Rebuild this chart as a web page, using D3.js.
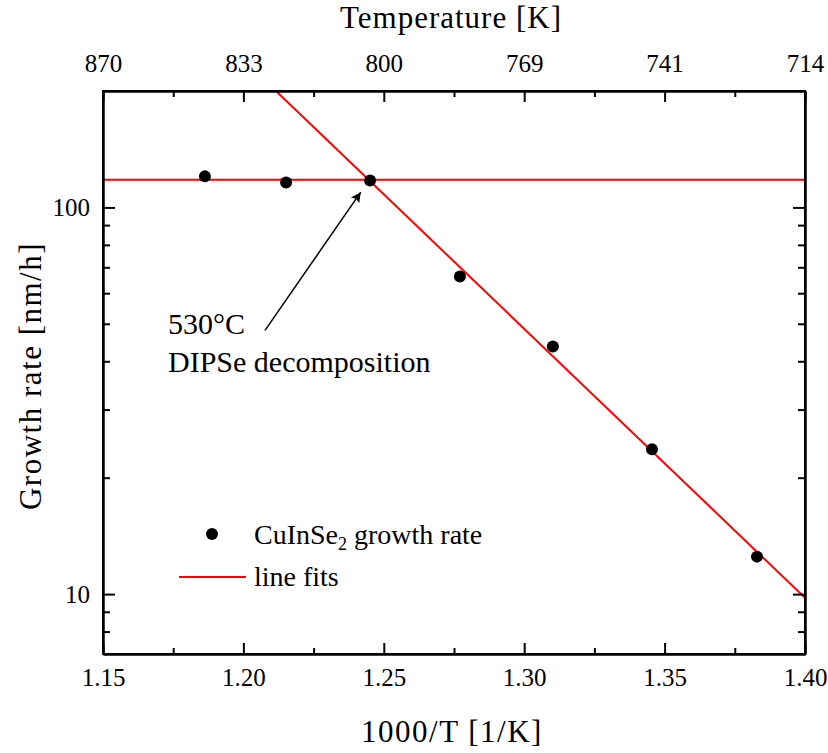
<!DOCTYPE html>
<meta charset="utf-8" />
<body style="margin: 0; background: #fff">
<svg width="828" height="753"></svg>

<script src="https://d3js.org/d3.v7.js"></script>
<script>
  /* global d3 */

  // measured points: 1000/T [1/K] and growth rate [nm/h]
  var invT = [1.1863, 1.2152, 1.2451, 1.2771, 1.3102, 1.3455, 1.3829];
  var rate = [120.3, 116.0, 117.4, 66.3, 43.7, 23.7, 12.5];

  // line fits, given by end points [1000/T, rate]
  var fitPlateau = [[1.15, 117.9], [1.40, 117.9]];
  var fitSlope = [[1.2116, 200], [1.40, 9.78]];

  // ticks
  var xMajor = [1.15, 1.2, 1.25, 1.3, 1.35, 1.4];
  var xMinor = [1.175, 1.225, 1.275, 1.325, 1.375];
  var tempLabels = ["870", "833", "800", "769", "741", "714"];
  var yMajor = [10, 100];
  var yMinor = [8, 9, 20, 30, 40, 50, 60, 70, 80, 90];

  // annotation arrow [1000/T, rate]: tail -> tip
  var arrowTail = [1.2077, 48.1];
  var arrowTip = [1.2418, 109.5];

  var FONT = "'Liberation Serif'";

  var svg = d3.select("svg").style("font-family", FONT, "important");
  var margin = { top: 91, right: 23, bottom: 99, left: 103 };
  var width = 828 - margin.left - margin.right,
    height = 753 - margin.top - margin.bottom;

  var x = d3.scaleLinear().domain([1.15, 1.4]).range([0, width]);
  var y = d3.scaleLog().domain([7, 200]).range([height, 0]);

  var defs = svg.append("defs");
  defs
    .append("clipPath")
    .attr("id", "clip")
    .append("rect")
    .attr("width", width)
    .attr("height", height);

  defs
    .append("marker")
    .attr("id", "head")
    .attr("viewBox", "0 0 10 10")
    .attr("refX", 10)
    .attr("refY", 5)
    .attr("markerWidth", 10)
    .attr("markerHeight", 12)
    .attr("markerUnits", "userSpaceOnUse")
    .attr("orient", "auto")
    .append("path")
    .attr("d", "M0,0 L10,5 L0,10 L2,5 z")
    .attr("fill", "#000");

  var g = svg
    .append("g")
    .attr("transform", "translate(" + margin.left + "," + margin.top + ")");

  // fit lines
  var line = d3
    .line()
    .x(function (d) {
      return x(d[0]);
    })
    .y(function (d) {
      return y(d[1]);
    });

  var fits = g.append("g").attr("clip-path", "url(#clip)");
  [fitPlateau, fitSlope].forEach(function (f) {
    fits
      .append("path")
      .attr("d", line(f))
      .attr("fill", "none")
      .attr("stroke", "#ff0000")
      .attr("stroke-width", 2);
  });

  // data points
  g.append("g")
    .selectAll("circle")
    .data(invT)
    .enter()
    .append("circle")
    .attr("cx", function (d) {
      return x(d);
    })
    .attr("cy", function (d, i) {
      return y(rate[i]);
    })
    .attr("r", 6)
    .attr("fill", "#000");

  // axes (ticks pointing inward)
  function tickAxis(axisFn, scale, values, size, labels) {
    return axisFn(scale)
      .tickValues(values)
      .tickSizeInner(-size)
      .tickSizeOuter(0)
      .tickFormat(function (d, i) {
        return labels ? labels[i] : "";
      });
  }

  var xLabel = function (d) {
    return d3.format(".2f")(d);
  };

  var axBottom = g.append("g").attr("class", "axis").attr("transform", "translate(0," + height + ")");
  axBottom.call(tickAxis(d3.axisBottom, x, xMinor, 6));
  axBottom.append("g").call(tickAxis(d3.axisBottom, x, xMajor, 11, xMajor.map(xLabel)));

  var axTop = g.append("g").attr("class", "axis");
  axTop.call(tickAxis(d3.axisTop, x, xMinor, 6));
  axTop.append("g").call(tickAxis(d3.axisTop, x, xMajor, 11, tempLabels));

  var axLeft = g.append("g").attr("class", "axis");
  axLeft.call(tickAxis(d3.axisLeft, y, yMinor, 7));
  axLeft.append("g").call(tickAxis(d3.axisLeft, y, yMajor, 12, yMajor.map(String)));

  var axRight = g.append("g").attr("class", "axis").attr("transform", "translate(" + width + ",0)");
  axRight.call(tickAxis(d3.axisRight, y, yMinor, 7));
  axRight.append("g").call(tickAxis(d3.axisRight, y, yMajor, 12));

  g.selectAll(".axis, .axis g").attr("font-family", FONT).attr("font-size", 25);
  g.selectAll(".axis line").attr("stroke", "#000").attr("stroke-width", 2);
  g.selectAll(".axis path").attr("stroke", "#000").attr("stroke-width", 2);
  axBottom.selectAll("text").attr("dy", null).attr("y", 32);
  axTop.selectAll("text").attr("dy", null).attr("y", -19);
  axLeft.selectAll("text").attr("x", -13).attr("dy", "0.33em");

  // frame
  g.append("rect")
    .attr("width", width)
    .attr("height", height)
    .attr("fill", "none")
    .attr("stroke", "#000")
    .attr("stroke-width", 2);

  // axis titles
  svg
    .append("text")
    .attr("font-family", FONT)
    .attr("x", 452)
    .attr("y", 742)
    .attr("text-anchor", "middle")
    .attr("font-size", 31)
    .attr("letter-spacing", 1.5)
    .text("1000/T [1/K]");

  svg
    .append("text")
    .attr("font-family", FONT)
    .attr("x", 451)
    .attr("y", 28)
    .attr("text-anchor", "middle")
    .attr("font-size", 31)
    .attr("letter-spacing", 1)
    .text("Temperature [K]");

  svg
    .append("text")
    .attr("font-family", FONT)
    .attr("transform", "translate(41,376) rotate(-90)")
    .attr("text-anchor", "middle")
    .attr("font-size", 31)
    .attr("letter-spacing", 1.5)
    .text("Growth rate [nm/h]");

  // annotation
  g.append("line")
    .attr("x1", x(arrowTail[0]))
    .attr("y1", y(arrowTail[1]))
    .attr("x2", x(arrowTip[0]))
    .attr("y2", y(arrowTip[1]))
    .attr("stroke", "#000")
    .attr("stroke-width", 1.5)
    .attr("marker-end", "url(#head)");

  var note = svg.append("text").attr("font-family", FONT).attr("font-size", 30);
  note.append("tspan").attr("x", 168).attr("y", 334).text("530°C");
  note.append("tspan").attr("x", 168).attr("y", 372).text("DIPSe decomposition");

  // legend
  var legend = svg.append("g");
  legend.append("circle").attr("cx", 212).attr("cy", 534).attr("r", 6).attr("fill", "#000");
  var lt = legend.append("text").attr("font-family", FONT).attr("x", 254).attr("y", 544).attr("font-size", 28);
  lt.append("tspan").text("CuInSe");
  lt.append("tspan").attr("font-size", 18).attr("dy", 6).text("2");
  lt.append("tspan").attr("dy", -6).text(" growth rate");

  legend
    .append("line")
    .attr("x1", 179)
    .attr("x2", 246)
    .attr("y1", 577)
    .attr("y2", 577)
    .attr("stroke", "#ff0000")
    .attr("stroke-width", 2);
  legend
    .append("text")
    .attr("font-family", FONT)
    .attr("x", 254)
    .attr("y", 586)
    .attr("font-size", 28)
    .text("line fits");

  // inline style wins over any stylesheet rule
  svg.selectAll("text").style("font-family", FONT, "important").attr("fill", "#000");
</script>
</body>
